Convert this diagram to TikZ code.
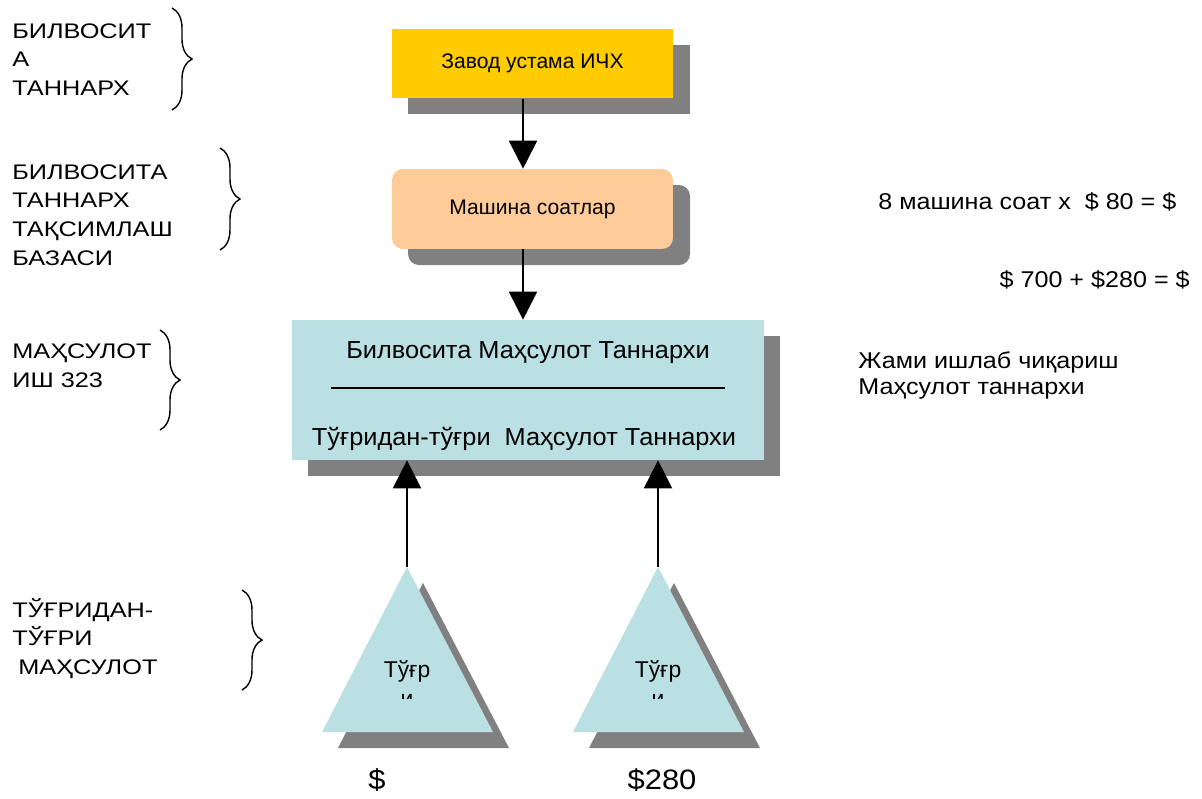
\documentclass[tikz,border=0pt]{standalone}
\usepackage{fontspec}
\setmainfont{Liberation Sans}
\newfontfamily\lblfont[FakeStretch=1.2]{Liberation Sans}
\newfontfamily\sidefont[FakeStretch=1.1]{Liberation Sans}
\newfontfamily\prodfont[FakeStretch=1.03]{Liberation Sans}
\usetikzlibrary{arrows.meta,decorations.pathreplacing}
\definecolor{zavodyellow}{RGB}{255,204,0}
\definecolor{soatpeach}{RGB}{255,204,153}
\definecolor{prodblue}{RGB}{186,224,227}
\definecolor{shadowgray}{RGB}{128,128,128}

\begin{document}
\begin{tikzpicture}[x=0.02cm, y=-0.02cm,
    box/.style={inner sep=0pt, minimum width=5.62cm, minimum height=1.4cm, font=\fontsize{12}{14}\selectfont},
    arr/.style={-{Triangle[width=5.6mm,length=5.6mm]}, line width=0.04cm},
    brc/.style={decorate, decoration={brace, amplitude=0.4cm}, line width=0.8pt},
    lbl/.style={anchor=west, align=left, inner sep=0pt, font=\lblfont\fontsize{12}{16.4}\selectfont},
    side/.style={anchor=west, align=left, inner sep=0pt, font=\sidefont\fontsize{13}{14.8}\selectfont},
    tri/.style={anchor=base, inner sep=0pt, font=\fontsize{13}{15}\selectfont},
    sum/.style={inner sep=0pt, font=\sidefont\fontsize{16}{18}\selectfont}]
  \useasboundingbox (0,0) rectangle (1202,798);

  % shadows
  \fill[shadowgray] (408,45) rectangle (690,114);
  \fill[shadowgray, rounded corners=0.22cm] (408,185) rectangle (690,265);
  \fill[shadowgray] (308,336) rectangle (780,476);

  % boxes
  \node[box, fill=zavodyellow] (zavod) at (532.5,63.5) {Завод устама ИЧХ};
  \node[box, fill=soatpeach, rounded corners=0.22cm, minimum height=1.6cm] (soat) at (532.5,209) {Машина соатлар};
  \node[fill=prodblue, inner sep=0pt, minimum width=9.44cm, minimum height=2.8cm] (prod) at (528,390) {};
  \node[anchor=base, inner sep=0pt, font=\prodfont\fontsize{14}{16}\selectfont] (bilv) at (528,358) {Билвосита Маҳсулот Таннархи};
  \draw[line width=0.9pt] (331,388) -- (725,388);
  \node[anchor=base, inner sep=0pt, font=\prodfont\fontsize{14}{16}\selectfont] (tugr) at (524,445) {Тўғридан-тўғри~ Маҳсулот Таннархи};

  % arrows down
  \draw[arr] ([xshift=-0.19cm]zavod.south) -- ([xshift=-0.19cm]soat.north);
  \draw[arr] ([xshift=-0.19cm]soat.south) -- ([xshift=-0.19cm]soat.south |- prod.north);

  % triangles
  \foreach \n/\x in {l/407, r/658} {
    \fill[shadowgray] (\x+16,583) -- (\x+102,748) -- (\x-69,748) -- cycle;
    \fill[prodblue] (\x,567) coordinate (apex\n) -- (\x+86,732) -- (\x-85,732) -- cycle;
    \begin{scope}
      \clip (\x-85,560) rectangle (\x+86,698);
      \node[tri] (tw\n) at (\x,677) {Тўғр};
      \node[tri] (ti\n) at (\x,706) {и};
    \end{scope}
    \draw[arr] (apex\n) -- (apex\n |- prod.south);
  }
  \node[sum] (suml) at (377,780) {\$};
  \node[sum] (sumr) at (662,780) {\$280};

  % braces
  \draw[brc] (172,8) -- (172,110);
  \draw[brc] (220,148) -- (220,250);
  \draw[brc] (160,330) -- (160,430);
  \draw[brc] (242,590) -- (242,690);

  % left labels
  \node[lbl] (lbl1) at (12,59.5) {БИЛВОСИТ\\А\\ТАННАРХ};
  \node[lbl] (lbl2) at (12,215) {БИЛВОСИТА\\ТАННАРХ\\ТАҚСИМЛАШ\\БАЗАСИ};
  \node[lbl] (lbl3) at (12,366) {МАҲСУЛОТ\\ИШ 323};
  \node[lbl] (lbl4) at (12,638.5) {ТЎҒРИДАН-\\ТЎҒРИ\\\hspace*{0.28em}МАҲСУЛОТ};

  % right side
  \node[side] (calc1) at (878,202) {8 машина соат х~ \$ 80 = \$};
  \node[side, anchor=east] (calc2) at (1190,280) {\$ 700 + \$280 = \$};
  \node[side] (total) at (858,375) {Жами ишлаб чиқариш\\Маҳсулот таннархи};
\end{tikzpicture}
\end{document}
